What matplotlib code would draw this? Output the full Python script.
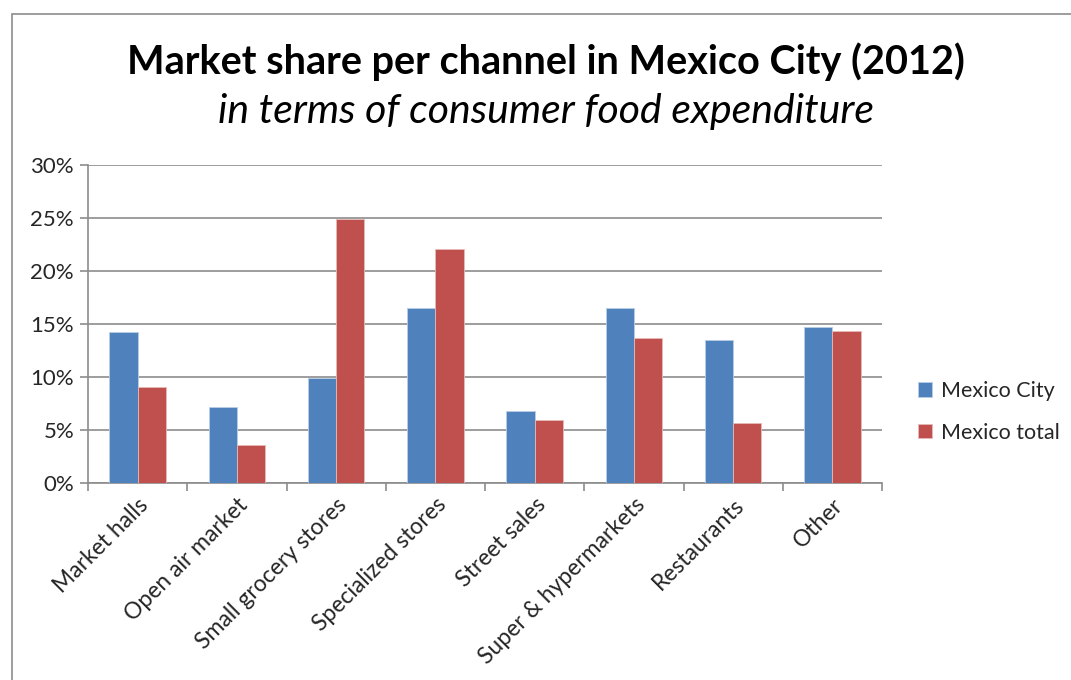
import matplotlib.pyplot as plt
import numpy as np
from matplotlib.patches import Rectangle
from matplotlib.ticker import FuncFormatter

# data (percent)
channels = ['Market halls', 'Open air market', 'Small grocery stores', 'Specialized stores',
            'Street sales', 'Super & hypermarkets', 'Restaurants', 'Other']
mexico_city = [14.2, 7.2, 9.9, 16.5, 6.8, 16.5, 13.5, 14.7]
mexico_total = [9.1, 3.6, 24.9, 22.1, 5.9, 13.7, 5.7, 14.3]
series_names = ['Mexico City', 'Mexico total']
colors = ['#4F81BD', '#C0504D']

plt.rcParams['font.family'] = ['Lato', 'DejaVu Sans']

W, H = 1071, 680
fig = plt.figure(figsize=(W / 100, H / 100), dpi=100)
ax = fig.add_axes([88 / W, 1 - 483 / H, (882 - 88) / W, (483 - 165) / H])

x = np.arange(len(channels))
bw = 0.285
ax.bar(x - bw / 2, mexico_city, bw, color=colors[0], edgecolor='#B9CDE5', linewidth=0.6,
       label=series_names[0], zorder=3)
ax.bar(x + bw / 2, mexico_total, bw, color=colors[1], edgecolor='#E6B9B8', linewidth=0.6,
       label=series_names[1], zorder=3)

ax.set_xlim(-0.5, len(channels) - 0.5)
ax.set_ylim(0, 30)
ax.set_yticks(np.arange(0, 31, 5))
ax.yaxis.set_major_formatter(FuncFormatter(lambda v, p: f'{v:.0f}%'))
ax.grid(axis='y', color='#8C8C8C', linewidth=1.2, zorder=0)

# category boundary ticks on x, labels at centers
ax.set_xticks(np.arange(-0.5, len(channels), 1), minor=True)
ax.set_xticks(x)
ax.set_xticklabels(channels, rotation=45, ha='right', rotation_mode='anchor', fontsize=16.5,
                   color='#262626')
ax.tick_params(axis='x', which='major', length=0, pad=8)
ax.tick_params(axis='x', which='minor', length=6, color='#8C8C8C', width=1.2)
ax.tick_params(axis='y', length=6, color='#8C8C8C', width=1.2, labelsize=16,
               labelcolor='#262626', pad=4)

for s in ['top', 'right']:
    ax.spines[s].set_visible(False)
for s in ['left', 'bottom']:
    ax.spines[s].set_color('#8C8C8C')
    ax.spines[s].set_linewidth(1.2)

fig.text(546 / W, 1 - 62 / H, 'Market share per channel in Mexico City (2012)',
         ha='center', va='center', fontsize=28.5, fontweight='bold', color='black')
fig.text(546 / W, 1 - 111 / H, 'in terms of consumer food expenditure',
         ha='center', va='center', fontsize=29.5, style='italic', color='black')

leg = ax.legend(loc='center left', bbox_to_anchor=(899 / W, 1 - 412 / H),
                bbox_transform=fig.transFigure, frameon=False, fontsize=15.5,
                handlelength=0.65, handleheight=0.65, handletextpad=0.4, labelspacing=1.0)
for t in leg.get_texts():
    t.set_color('#262626')

# chart border (cropped at right/bottom)
fig.patches.append(Rectangle((12 / W, -0.05), 1.2, 1 - 14 / H + 0.05, transform=fig.transFigure,
                             fill=False, edgecolor='#8C8C8C', linewidth=1.2))

fig.savefig('out.png', dpi=100)
